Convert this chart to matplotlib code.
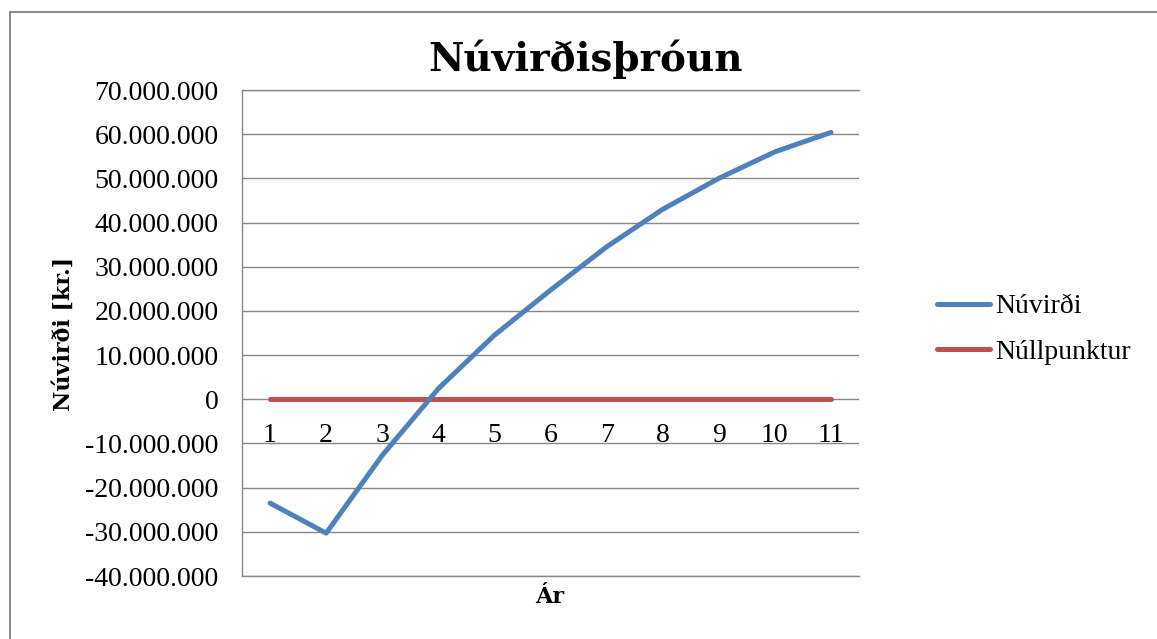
import matplotlib
matplotlib.use("Agg")
import matplotlib.pyplot as plt
from matplotlib.patches import Rectangle

# data
years = [1, 2, 3, 4, 5, 6, 7, 8, 9, 10, 11]
nuvirdi = [-23.5e6, -30.3e6, -12.7e6, 2.4e6, 14.5e6, 24.7e6,
           34.5e6, 43.0e6, 50.0e6, 56.0e6, 60.4e6]
nullpunktur = [0] * len(years)
yticks = list(range(-40_000_000, 70_000_001, 10_000_000))

BLUE = "#4F81BD"
RED = "#C0504D"
GRID = "#888888"

W, H = 1157, 639


def fmt(v):
    return "{:,.0f}".format(v).replace(",", ".")


fig = plt.figure(figsize=(W / 100, H / 100), dpi=100)
fig.patch.set_facecolor("white")

# outer chart border (right/bottom edges fall outside the picture)
fig.add_artist(Rectangle((10 / W, -0.1), 2, 0.1 + (H - 12) / H,
                         transform=fig.transFigure, fill=False,
                         edgecolor="#8c8c8c", lw=1.5))

ax = fig.add_axes([242 / W, (H - 576) / H, (859 - 242) / W, (576 - 90) / H])

ax.plot(years, nuvirdi, color=BLUE, lw=3.6, solid_capstyle="round",
        solid_joinstyle="round", label="Núvirði", zorder=3)
ax.plot(years, nullpunktur, color=RED, lw=3.6, solid_capstyle="round",
        label="Núllpunktur", zorder=2)

ax.set_xlim(0.5, 11.5)
ax.set_ylim(-40_000_000, 70_000_000)
ax.set_yticks(yticks)
ax.set_yticklabels([fmt(v) for v in yticks])
ax.set_xticks(years)
ax.set_xticklabels([str(y) for y in years])

ax.grid(axis="y", color=GRID, lw=1.0)
ax.set_axisbelow(True)
# bottom gridline gets clipped at the axes edge, draw it unclipped
ax.axhline(yticks[0], color=GRID, lw=1.0, clip_on=False, zorder=1)
ax.axhline(yticks[-1], color=GRID, lw=1.0, clip_on=False, zorder=1)
for s in ["top", "right"]:
    ax.spines[s].set_visible(False)
ax.spines["left"].set_color(GRID)
ax.spines["left"].set_linewidth(1.0)
# x labels sit under the zero line, as excel does
ax.spines["bottom"].set_position(("data", 0))
ax.spines["bottom"].set_visible(False)

for lab in ax.get_yticklabels() + ax.get_xticklabels():
    lab.set_fontfamily("Liberation Serif")
    lab.set_fontsize(20)
ax.tick_params(axis="y", length=0, pad=17)
ax.tick_params(axis="x", length=0, pad=17)

fig.text(586 / W, (H - 71) / H, "Núvirðisþróun", ha="center", va="baseline",
         family="DejaVu Serif", weight="bold", size=28)
fig.text(64 / W, (H - 334) / H, "Núvirði [kr.]", rotation=90, ha="center",
         va="center", family="DejaVu Serif", weight="bold", size=16)
fig.text(550 / W, (H - 597) / H, "Ár", ha="center", va="center",
         family="DejaVu Serif", weight="bold", size=16)

leg = ax.legend(loc="upper left", bbox_to_anchor=(937 / W, (H - 294) / H),
                bbox_transform=fig.transFigure, frameon=False, borderpad=0,
                borderaxespad=0, handlelength=1.9, handletextpad=0.18,
                labelspacing=0.72, prop={"family": "Liberation Serif", "size": 20})

fig.savefig("out.png", dpi=100, facecolor="white")
